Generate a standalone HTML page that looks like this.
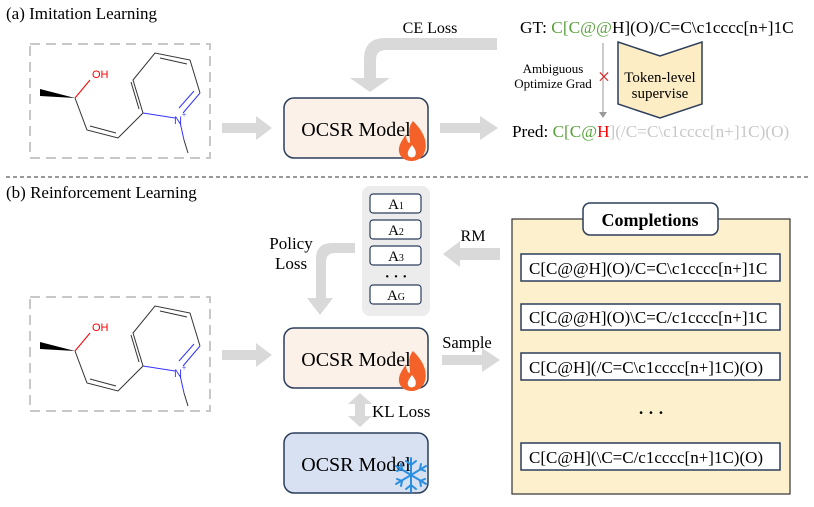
<!DOCTYPE html>
<html><head><meta charset="utf-8"><style>
body{margin:0;background:#fff}
svg{display:block}
text{font-family:"Liberation Serif",serif}
</style></head><body>
<svg width="814" height="507" viewBox="0 0 814 507" xmlns="http://www.w3.org/2000/svg">
<defs>
<g id="mol">
<rect x="30" y="44" width="180" height="114" fill="none" stroke="#c8c8c8" stroke-width="2" stroke-dasharray="10,6"/>
<polygon points="40,89 75,98 40,96" fill="#000"/>
<line x1="75" y1="98" x2="90" y2="80" stroke="#f00" stroke-width="1"/>
<text x="92" y="78" font-size="11" fill="#f00" style="font-family:'Liberation Sans',sans-serif">OH</text>
<g stroke="#333" stroke-width="1" fill="none">
<polyline points="75,98 87,130 118,138 143,113"/>
<line x1="90" y1="126" x2="116" y2="133"/>
<polyline points="143,113 133,80 155,53 190,60 200,93"/>
<line x1="139" y1="109" x2="131" y2="82"/>
<line x1="160" y1="58" x2="187" y2="64"/>
</g>
<g stroke="#33f" stroke-width="1">
<line x1="143" y1="113" x2="175" y2="118"/>
<line x1="200" y1="93" x2="183" y2="113"/>
<line x1="194" y1="91" x2="179" y2="108"/>
<line x1="180" y1="122" x2="184" y2="140"/>
</g>
<line x1="184" y1="140" x2="188" y2="153" stroke="#333"/>
<text x="174" y="124" font-size="11" fill="#33f" style="font-family:'Liberation Sans',sans-serif">N</text>
<text x="182" y="117" font-size="7" fill="#33f" style="font-family:'Liberation Sans',sans-serif">+</text>
</g>
<g id="fire">
<path d="M413,121 C422,130 428,140 425,151 C423,158 417,161 412,161 C404,161 398,156 399,148 C400,142 404,138 406,134 C406,140 408,143 410,143 C410,135 407,128 413,121 Z" fill="#f4622a"/>
<path d="M412,145 C415,149 417,152 415,156 C413,158 409,158 408,155 C407,152 409,149 412,145 Z" fill="#fff"/>
</g>
<g id="snow" stroke="#2a8fe0" stroke-width="2" fill="none" stroke-linecap="round">
<line x1="411" y1="458" x2="411" y2="492"/>
<line x1="396" y1="466" x2="426" y2="484"/>
<line x1="396" y1="484" x2="426" y2="466"/>
<polyline points="406,461 411,465 416,461"/><polyline points="406,489 411,485 416,489"/>
<polyline points="397,471 402,469 401,464"/><polyline points="425,479 420,481 421,486"/>
<polyline points="397,479 402,481 401,486"/><polyline points="425,471 420,469 421,464"/>
</g>
</defs>

<text x="6" y="19" font-size="17">(a) Imitation Learning</text>
<use href="#mol"/>
<polygon points="222,123 256,123 256,116 272,128 256,140 256,133 222,133" fill="#d9d9d9"/>
<rect x="284" y="98" width="144" height="60" rx="10" fill="#fcf1e8" stroke="#2c3e5c" stroke-width="1.5"/>
<text x="356" y="136" font-size="20" text-anchor="middle">OCSR Model</text>
<use href="#fire"/>
<polygon points="440,123 480,123 480,116 498,128 480,140 480,133 440,133" fill="#d9d9d9"/>
<path d="M497,38 L385,38 Q364,38 364,59 L364,78 L350,78 L370,92 L390,78 L376,78 L376,60 Q376,50 386,50 L497,50 Z" fill="#d9d9d9"/>
<text x="430" y="33" font-size="16" text-anchor="middle">CE Loss</text>
<text x="520" y="33" font-size="17.3">GT: <tspan fill="#5aa33c">C[C@@</tspan>H](O)/C=C\c1cccc[n+]1C</text>
<line x1="603" y1="43" x2="603" y2="114" stroke="#999" stroke-width="1"/>
<polygon points="599,112 607,112 603,118" fill="#999"/>
<text x="553" y="73" font-size="13" text-anchor="middle">Ambiguous</text>
<text x="553" y="88" font-size="13" text-anchor="middle">Optimize Grad</text>
<text x="604" y="84" font-size="22" fill="#e02020" text-anchor="middle">×</text>
<polygon points="618,42 660,56 702,42 702,104 660,118 618,104" fill="#fdedc4" stroke="#2c3e5c" stroke-width="1.5"/>
<text x="660" y="82" font-size="15" text-anchor="middle">Token-level</text>
<text x="660" y="98" font-size="15" text-anchor="middle">supervise</text>
<text x="512" y="137" font-size="17.2">Pred: <tspan fill="#5aa33c">C[C@</tspan><tspan fill="#f00">H</tspan><tspan fill="#c8c8c8">](/C=C\c1cccc[n+]1C)(O)</tspan></text>

<line x1="6" y1="177" x2="808" y2="177" stroke="#333" stroke-width="1" stroke-dasharray="4,3"/>
<text x="6" y="198" font-size="17">(b) Reinforcement Learning</text>

<rect x="362" y="186" width="68" height="130" rx="8" fill="#ececec"/>
<g fill="#fff" stroke="#2c3e5c" stroke-width="1.2">
<rect x="370" y="194" width="51" height="19" rx="3"/>
<rect x="370" y="220" width="51" height="19" rx="3"/>
<rect x="370" y="246" width="51" height="19" rx="3"/>
<rect x="370" y="285" width="51" height="19" rx="3"/>
</g>
<g font-size="15" text-anchor="middle">
<text x="396" y="209">A<tspan font-size="10">1</tspan></text>
<text x="396" y="235">A<tspan font-size="10">2</tspan></text>
<text x="396" y="261">A<tspan font-size="10">3</tspan></text>
<text x="396" y="281" font-weight="bold">· · ·</text>
<text x="396" y="300">A<tspan font-size="10">G</tspan></text>
</g>
<polygon points="500,248 460,248 460,241 443,254 460,267 460,260 500,260" fill="#d9d9d9"/>
<text x="473" y="241" font-size="16" text-anchor="middle">RM</text>
<path d="M355,243 L332,243 Q316,243 316,259 L316,298 L307,298 L320,315 L333,298 L326,298 L326,262 Q326,253 335,253 L355,253 Z" fill="#d9d9d9"/>
<text x="291" y="249" font-size="17" text-anchor="middle">Policy</text>
<text x="291" y="269" font-size="17" text-anchor="middle">Loss</text>

<use href="#mol" y="253"/>
<polygon points="222,350 256,350 256,343 272,355 256,367 256,360 222,360" fill="#d9d9d9"/>
<rect x="284" y="328" width="144" height="60" rx="10" fill="#fcf1e8" stroke="#2c3e5c" stroke-width="1.5"/>
<text x="356" y="366" font-size="20" text-anchor="middle">OCSR Model</text>
<use href="#fire" y="230"/>
<polygon points="442,355 482,355 482,348 500,360 482,372 482,365 442,365" fill="#d9d9d9"/>
<text x="467" y="348" font-size="16.5" text-anchor="middle">Sample</text>
<polygon points="360,393 372,404 365,404 365,416 372,416 360,427 348,416 355,416 355,404 348,404" fill="#d9d9d9"/>
<text x="372" y="417" font-size="17">KL Loss</text>
<rect x="284" y="433" width="144" height="60" rx="10" fill="#d7e1f2" stroke="#2c3e5c" stroke-width="1.5"/>
<text x="356" y="471" font-size="20" text-anchor="middle">OCSR Model</text>
<use href="#snow"/>

<rect x="512" y="219" width="278" height="275" fill="#fdf0cc" stroke="#333" stroke-width="1.2"/>
<rect x="583" y="203" width="135" height="32" rx="7" fill="#fff" stroke="#2c3e5c" stroke-width="1.5"/>
<text x="650" y="226" font-size="18" font-weight="bold" text-anchor="middle">Completions</text>
<g fill="#fff" stroke="#2c3e5c" stroke-width="1.5">
<rect x="521" y="254" width="259" height="27"/>
<rect x="521" y="304" width="259" height="26"/>
<rect x="521" y="353" width="259" height="27"/>
<rect x="521" y="443" width="259" height="27"/>
</g>
<g font-size="17">
<text x="529" y="274">C[C@@H](O)/C=C\c1cccc[n+]1C</text>
<text x="529" y="323">C[C@@H](O)\C=C/c1cccc[n+]1C</text>
<text x="529" y="373">C[C@H](/C=C\c1cccc[n+]1C)(O)</text>
<text x="651" y="418" text-anchor="middle" font-weight="bold">· · ·</text>
<text x="529" y="463">C[C@H](\C=C/c1cccc[n+]1C)(O)</text>
</g>
</svg>
</body></html>
